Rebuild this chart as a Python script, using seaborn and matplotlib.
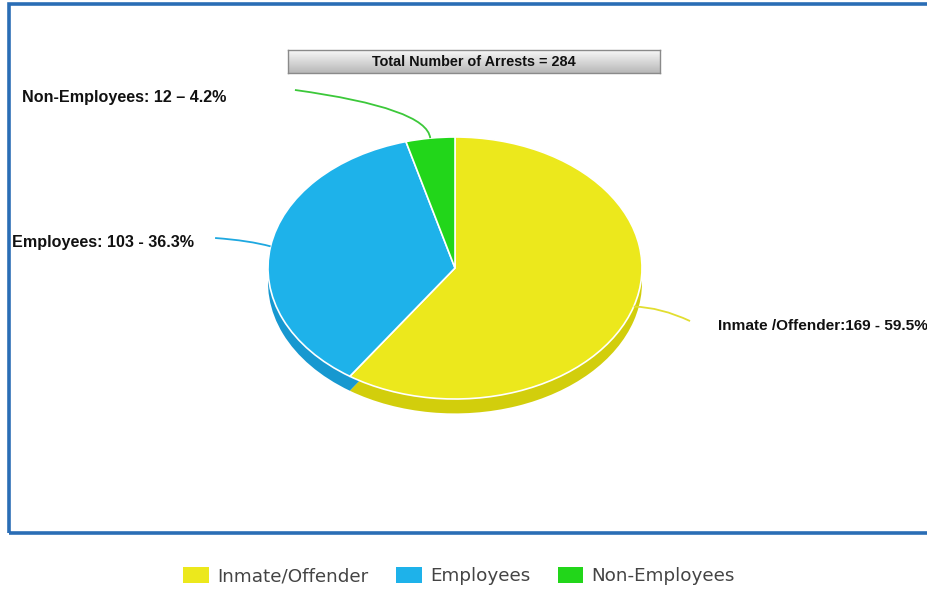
#!/usr/bin/env python3
"""Arrests by person type, drawn as a tilted pie with a shaded rim."""

import numpy as np
import seaborn as sns
import matplotlib.pyplot as plt
from matplotlib.patches import Rectangle, PathPatch
from matplotlib.path import Path

categories = ["Inmate/Offender", "Employees", "Non-Employees"]
arrests = [169, 103, 12]
slice_labels = [
    "Inmate /Offender:169 - 59.5%",
    "Employees: 103 - 36.3%",
    "Non-Employees: 12 \u2013 4.2%",
]
title_text = "Total Number of Arrests = 284"

top_colors = ["#ECE81C", "#1EB2EA", "#22D61A"]
rim_colors = ["#D2CE0C", "#1798D0", "#18B010"]
line_colors = ["#E2DE30", "#1EA8E0", "#3CC83A"]

W, H = 927, 589


def fig_box(x0, y0, x1, y1):
    """Convert pixel box (top-left origin) into figure fraction rect."""
    return [x0 / W, 1 - y1 / H, (x1 - x0) / W, (y1 - y0) / H]


sns.set_theme(style="white")
plt.rcParams["font.family"] = ["Liberation Sans", "DejaVu Sans"]

fig = plt.figure(figsize=(W / 100, H / 100), dpi=100)
fig.patch.set_facecolor("white")

# blue frame around the chart area
fig.patches.append(Rectangle((9 / W, 1 - 533 / H), 1.0, (533 - 4) / H,
                             transform=fig.transFigure, fill=False,
                             edgecolor="#2A6DB5", linewidth=2.6))

# pie axes: unit circle squashed into an ellipse
cx, cy, rx, ry = 455, 268, 187, 131
ax = fig.add_axes(fig_box(cx - rx, cy - ry, cx + rx, cy + ry))
depth = 0.11

# rim (drawn lower, darker)
ax.pie(arrests, colors=rim_colors, startangle=90, counterclock=False,
       radius=1, center=(0, -depth), wedgeprops=dict(linewidth=0))
ax.pie(arrests, colors=top_colors, startangle=90, counterclock=False,
       radius=1, center=(0, 0),
       wedgeprops=dict(linewidth=1.2, edgecolor="white"))
ax.set_aspect("auto")
ax.set_xlim(-1, 1)
ax.set_ylim(-1, 1)
ax.axis("off")

# leader lines from slice mid-angles
total = sum(arrests)
cum = np.cumsum([0] + arrests)
mids = [90 - 360 * (cum[i] + cum[i + 1]) / 2 / total for i in range(len(arrests))]
anchors = [(np.cos(np.radians(a)), np.sin(np.radians(a))) for a in mids]

# label layout: (ctrl, end, text pos, size) in pie data units
layout = [
    ((1.10, -0.30), (1.257, -0.405), (1.406, -0.443), 11.1),
    ((-1.10, 0.21), (-1.283, 0.229), (-2.369, 0.191), 11.6),
    ((-0.150, 1.22), (-0.856, 1.359), (-2.316, 1.305), 11.6),
]
for i, (ctrl, end, tpos, fs) in enumerate(layout):
    path = Path([anchors[i], ctrl, end], [Path.MOVETO, Path.CURVE3, Path.CURVE3])
    ax.add_patch(PathPatch(path, fill=False, edgecolor=line_colors[i],
                           linewidth=1.3, clip_on=False))
    ax.text(tpos[0], tpos[1], slice_labels[i], ha="left", va="center",
            fontsize=fs, fontweight="bold", color="#111111", clip_on=False)

# title bar with grey gradient
tax = fig.add_axes(fig_box(288, 50, 660, 73))
grad = np.linspace(0.97, 0.72, 40).reshape(-1, 1)
tax.imshow(grad, cmap="gray", vmin=0, vmax=1, aspect="auto",
           extent=(0, 1, 0, 1))
tax.set_xlim(0, 1)
tax.set_ylim(0, 1)
tax.set_xticks([])
tax.set_yticks([])
for s in tax.spines.values():
    s.set_color("#8A8A8A")
    s.set_linewidth(1.0)
tax.text(0.5, 0.5, title_text, ha="center", va="center", fontsize=10.4,
         fontweight="bold", color="#111111")

# legend below the frame
handles = [Rectangle((0, 0), 1, 1, facecolor=c, edgecolor="none") for c in top_colors]
leg = fig.legend(handles, categories, loc="center", bbox_to_anchor=(459 / W, 1 - 576 / H),
                 ncol=3, frameon=False, handlelength=1.4, handleheight=1.0,
                 handletextpad=0.45, columnspacing=1.5,
                 prop={"family": "DejaVu Sans", "size": 13.2})
for t in leg.get_texts():
    t.set_color("#444444")

fig.savefig("out.png", dpi=100)
